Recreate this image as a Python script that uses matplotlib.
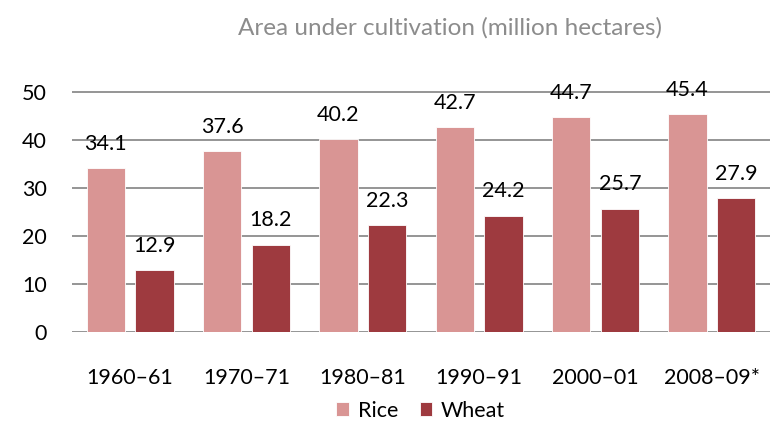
import numpy as np
import matplotlib.pyplot as plt

periods = ['1960\u201361', '1970\u201371', '1980\u201381', '1990\u201391', '2000\u201301', '2008\u201309*']
rice = [34.1, 37.6, 40.2, 42.7, 44.7, 45.4]
wheat = [12.9, 18.2, 22.3, 24.2, 25.7, 27.9]

plt.rcParams['font.family'] = ['Lato', 'DejaVu Sans']

fig = plt.figure(figsize=(7.79, 4.22), dpi=100)
ax = fig.add_axes([72 / 779, 90 / 422, 698 / 779, 242 / 422])

x = np.arange(len(periods))
w = 0.33
off = 0.21
b1 = ax.bar(x - off, rice, w, color='#D99594', edgecolor='white', linewidth=0.6, label='Rice', zorder=3)
b2 = ax.bar(x + off, wheat, w, color='#9E3A3F', edgecolor='white', linewidth=0.6, label='Wheat', zorder=3)

for bars, vals in ((b1, rice), (b2, wheat)):
    for rect, v in zip(bars, vals):
        ax.text(rect.get_x() + rect.get_width() / 2, v + 3.0, f'{v:.1f}',
                ha='center', va='bottom', fontsize=15.5, color='black', zorder=4)

ax.set_xlim(-0.5, len(periods) - 0.5)
ax.set_ylim(0, 50.4)
ax.set_yticks(range(0, 51, 10))
for yv in range(0, 51, 10):
    ax.axhline(yv, color='#8C8C8C', linewidth=1.3, zorder=1)
ax.set_xticks(x)
ax.set_xticklabels(periods)
ax.tick_params(axis='both', length=0, labelsize=15.5, colors='black')
ax.tick_params(axis='x', pad=26)
ax.tick_params(axis='y', pad=18)
for s in ax.spines.values():
    s.set_visible(False)

fig.text(0.578, 0.934, 'Area under cultivation (million hectares)', ha='center', va='center',
         fontsize=17.5, color='#8C8C8C')

fig.legend(handles=[b1, b2], labels=['Rice', 'Wheat'], loc='center', bbox_to_anchor=(0.54, 0.027),
           ncol=2, frameon=False, fontsize=15.5, handlelength=0.6, handleheight=0.6,
           handletextpad=0.4, columnspacing=1.0)

fig.savefig('out.png', dpi=100)
